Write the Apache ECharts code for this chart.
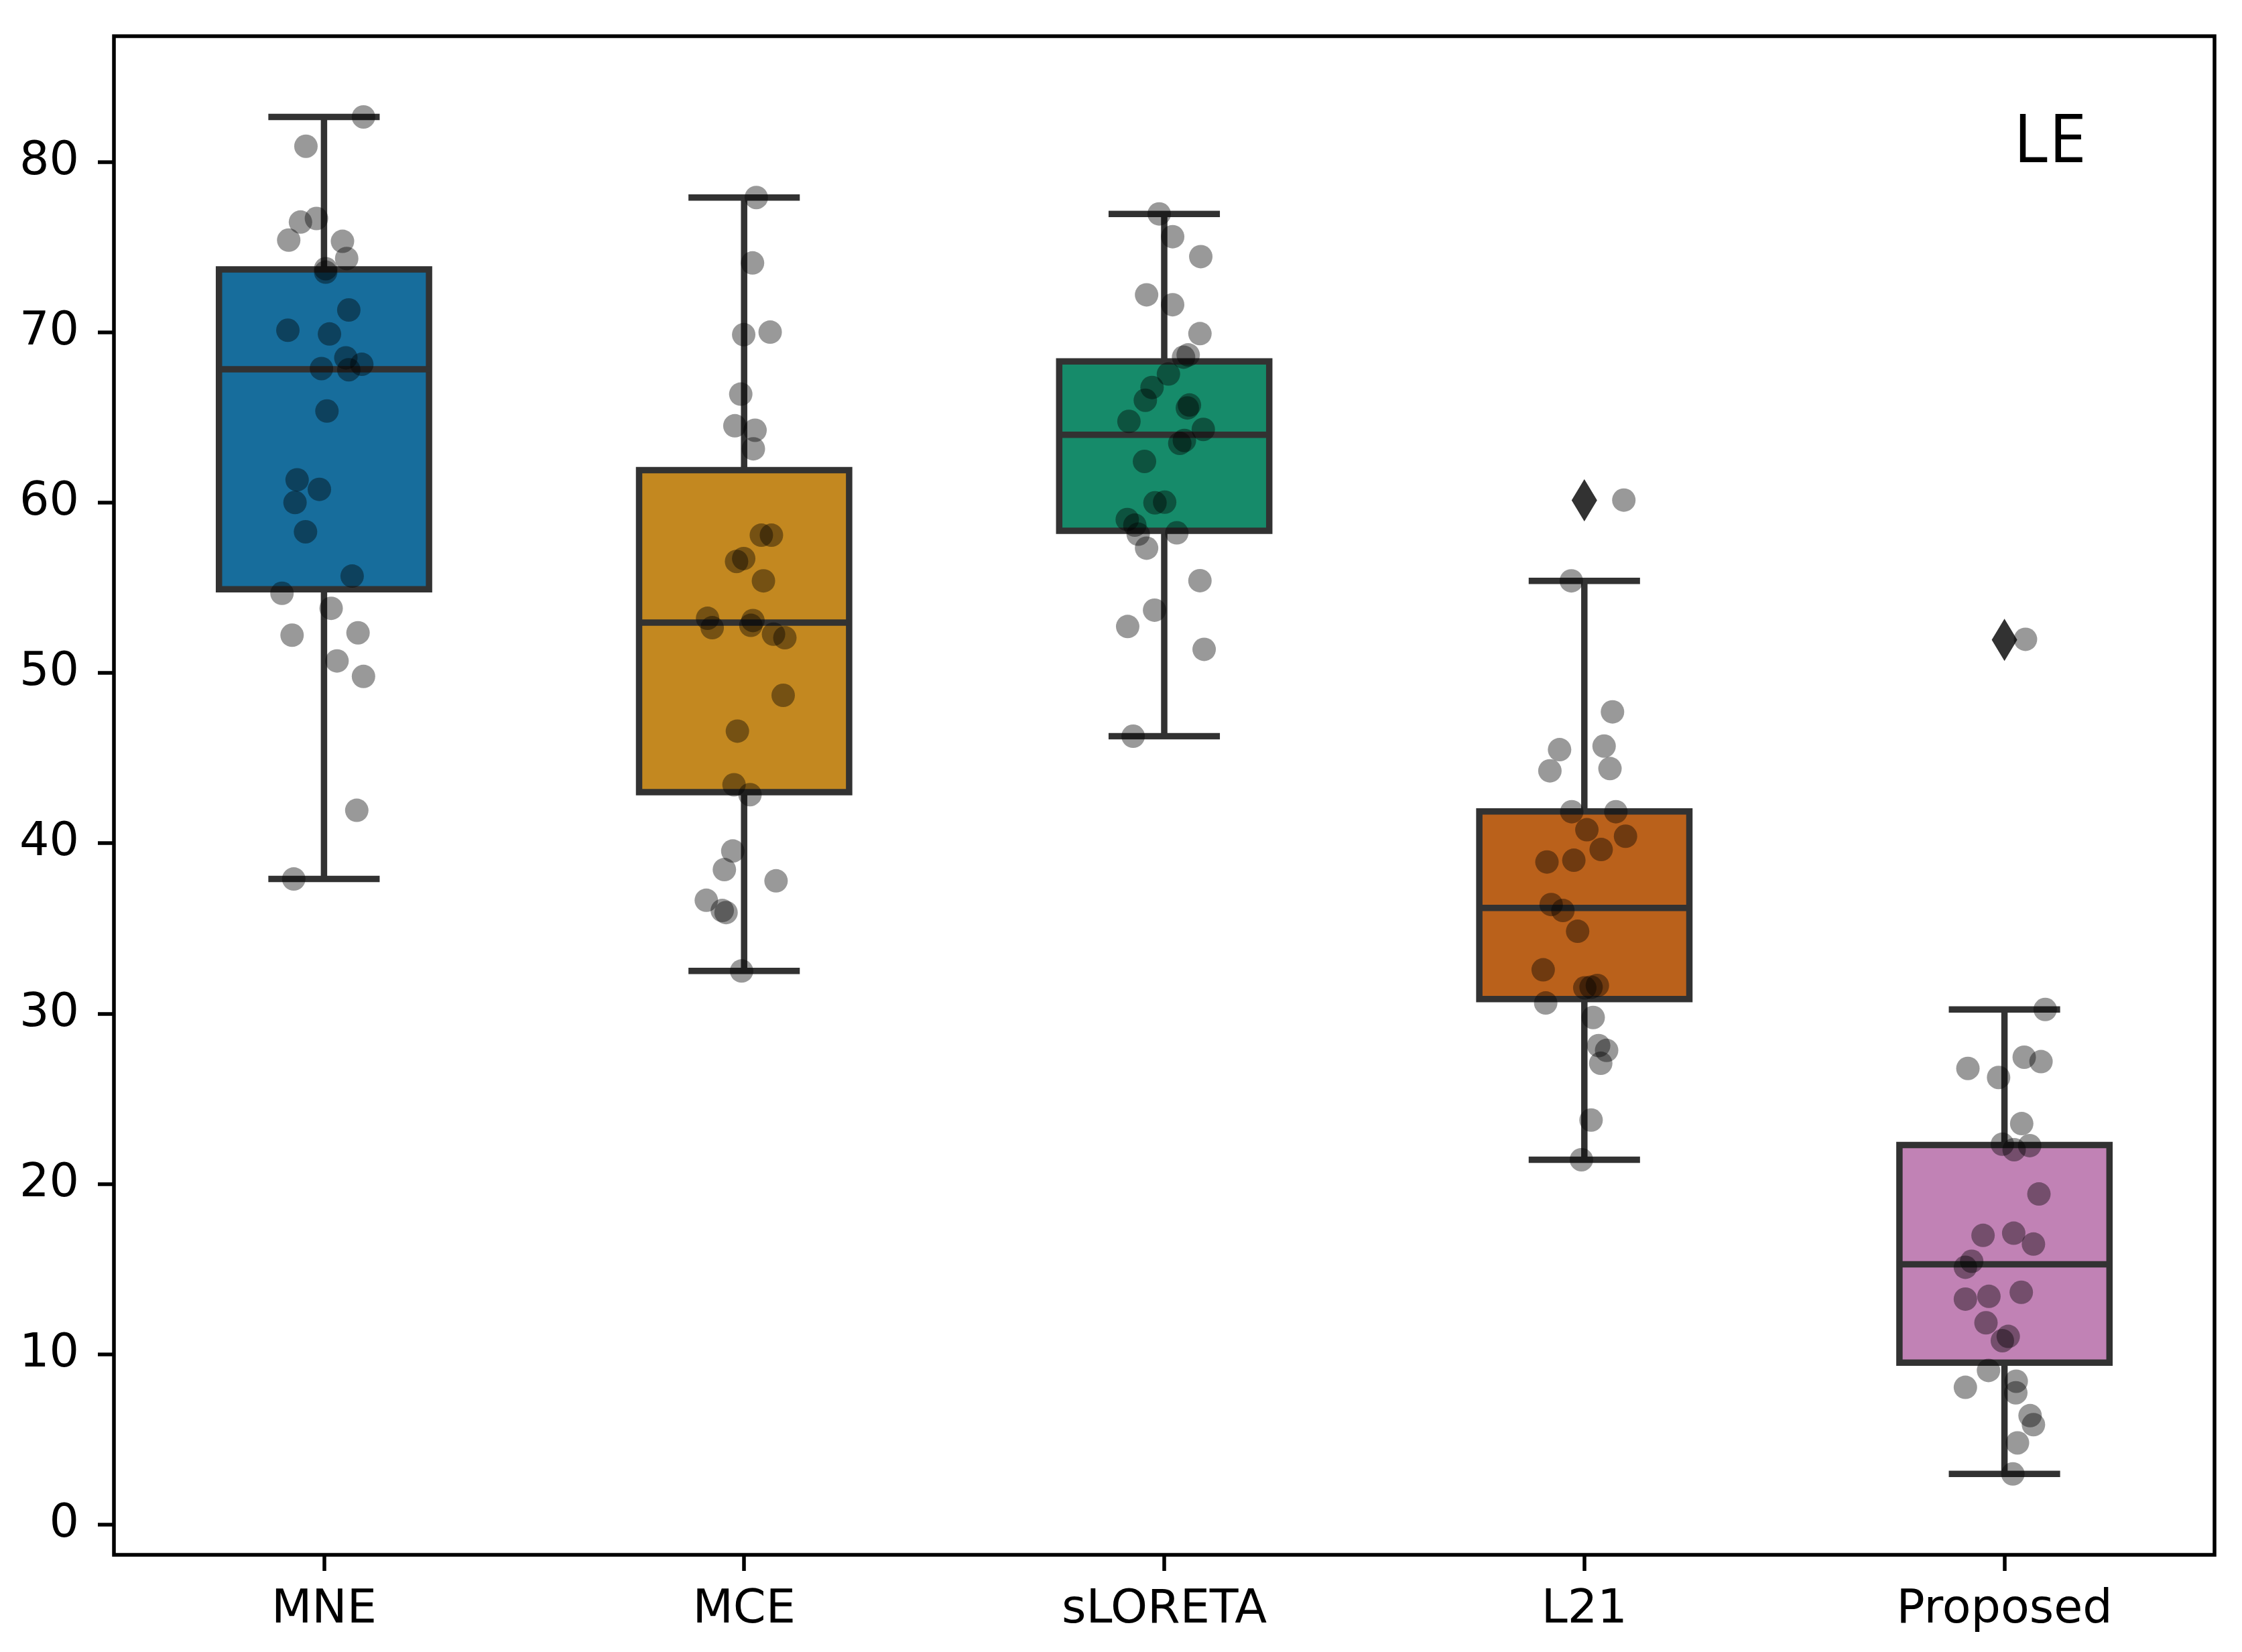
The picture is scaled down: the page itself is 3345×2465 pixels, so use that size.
<!DOCTYPE html>
<html>
<head>
<meta charset="utf-8">
<script src="https://cdn.jsdelivr.net/npm/echarts@6/dist/echarts.min.js"></script>
<style>
html,body{margin:0;padding:0;background:#fff;}
#chart{width:3345px;height:2465px;}
</style>
</head>
<body>
<div id="chart"></div>
<script>
// ---- data ----
var categories = ['MNE', 'MCE', 'sLORETA', 'L21', 'Proposed'];
var yTicks = [0, 10, 20, 30, 40, 50, 60, 70, 80];

// box statistics: [whisker low, Q1, median, Q3, whisker high]
var boxLow    = [37.90, 32.50, 46.28, 21.42, 2.98];
var boxQ1     = [54.91, 43.00, 58.34, 30.85, 9.51];
var boxMedian = [67.82, 52.95, 63.97, 36.20, 15.28];
var boxQ3     = [73.68, 61.90, 68.28, 41.87, 22.29];
var boxHigh   = [82.63, 77.90, 76.94, 55.40, 30.24];

// outliers (category index, value)
var outlierCat = [3, 4];
var outlierVal = [60.13, 51.94];

// individual observations and their horizontal jitter (category units)
var mneValues = [82.63, 80.91, 76.46, 76.67, 75.40, 75.33, 74.32, 73.72, 73.52, 71.30, 70.11, 69.89, 68.49, 68.11, 67.86, 67.79, 65.37, 61.33, 60.77, 60.00, 58.28, 55.68, 54.67, 53.79, 52.21, 52.35, 50.70, 49.79, 41.93, 37.90];
var mneJitter = [0.094, -0.043, -0.056, -0.018, -0.084, 0.044, 0.054, 0.004, 0.004, 0.059, -0.086, 0.013, 0.052, 0.090, -0.006, 0.059, 0.007, -0.064, -0.011, -0.069, -0.044, 0.067, -0.100, 0.017, -0.076, 0.081, 0.031, 0.094, 0.078, -0.072];

var mceValues = [77.90, 74.06, 69.85, 70.00, 66.36, 64.50, 64.24, 63.15, 58.08, 58.08, 56.71, 56.54, 55.40, 53.20, 52.65, 53.07, 52.79, 52.27, 52.06, 48.68, 46.58, 43.43, 42.85, 39.54, 38.45, 37.79, 36.65, 36.05, 35.93, 32.50];
var mceJitter = [0.029, 0.020, -0.001, 0.062, -0.008, -0.022, 0.026, 0.022, 0.041, 0.065, -0.001, -0.018, 0.046, -0.087, -0.076, 0.021, 0.016, 0.070, 0.097, 0.093, -0.016, -0.024, 0.014, -0.027, -0.047, 0.076, -0.090, -0.052, -0.043, -0.006];

var sloretaValues = [76.94, 75.60, 74.43, 72.19, 71.61, 69.91, 68.66, 68.53, 67.54, 66.75, 66.00, 65.72, 65.55, 64.76, 64.29, 63.64, 63.47, 62.41, 59.98, 60.02, 59.00, 58.67, 58.14, 58.22, 57.32, 55.41, 53.68, 52.72, 51.38, 46.28];
var sloretaJitter = [-0.012, 0.020, 0.087, -0.042, 0.020, 0.085, 0.057, 0.046, 0.010, -0.029, -0.045, 0.060, 0.055, -0.084, 0.093, 0.048, 0.037, -0.047, -0.022, 0.001, -0.088, -0.070, -0.062, 0.030, -0.042, 0.085, -0.023, -0.087, 0.095, -0.074];

var l21Values = [60.14, 55.40, 47.71, 45.49, 45.70, 44.25, 44.38, 41.85, 41.85, 40.79, 40.41, 39.63, 38.90, 39.00, 36.40, 36.05, 34.83, 32.57, 31.51, 31.55, 31.65, 30.62, 29.77, 28.12, 27.84, 27.08, 23.75, 21.42];
var l21Jitter = [0.094, -0.031, 0.067, -0.059, 0.047, -0.082, 0.061, -0.030, 0.075, 0.006, 0.098, 0.040, -0.089, -0.025, -0.079, -0.051, -0.016, -0.098, 0.001, 0.016, 0.031, -0.092, 0.021, 0.034, 0.053, 0.039, 0.016, -0.007];

var proposedValues = [51.97, 30.24, 27.44, 27.18, 26.78, 26.25, 23.54, 22.33, 22.25, 22.01, 19.41, 16.98, 17.11, 16.47, 15.46, 15.11, 13.24, 13.40, 13.64, 11.85, 11.05, 10.80, 9.05, 8.06, 8.42, 7.74, 6.40, 5.87, 4.80, 2.98];
var proposedJitter = [0.050, 0.097, 0.047, 0.087, -0.087, -0.014, 0.041, -0.005, 0.060, 0.023, 0.082, -0.051, 0.022, 0.069, -0.078, -0.093, -0.093, -0.037, 0.040, -0.044, 0.009, -0.005, -0.038, -0.093, 0.028, 0.027, 0.061, 0.069, 0.031, 0.020];

var boxColors = ['#176d9c', '#c38820', '#168b6a', '#ba611b', '#c182b5'];
var annotation = 'LE';

// ---- build series data ----
var groupValues = [mneValues, mceValues, sloretaValues, l21Values, proposedValues];
var groupJitter = [mneJitter, mceJitter, sloretaJitter, l21Jitter, proposedJitter];
var stripData = [];
for (var g = 0; g < groupValues.length; g++) {
  for (var k = 0; k < groupValues[g].length; k++) {
    stripData.push([g + groupJitter[g][k], groupValues[g][k]]);
  }
}
var boxData = categories.map(function (c, i) {
  return [i, boxLow[i], boxQ1[i], boxMedian[i], boxQ3[i], boxHigh[i]];
});
var flierData = outlierCat.map(function (c, i) { return [c, outlierVal[i]]; });

var lineColor = '#323232';
var lw = 9.5;

function renderBox(params, api) {
  var i = api.value(0);
  var low = api.coord([i, api.value(1)]);
  var q1 = api.coord([i, api.value(2)]);
  var med = api.coord([i, api.value(3)]);
  var q3 = api.coord([i, api.value(4)]);
  var high = api.coord([i, api.value(5)]);
  var bw = api.size([0.5, 0])[0];
  var cw = api.size([0.265, 0])[0];
  var x = q1[0];
  var ls = { stroke: lineColor, lineWidth: lw, fill: null };
  return {
    type: 'group',
    children: [
      { type: 'line', shape: { x1: x, y1: q3[1], x2: x, y2: high[1] }, style: ls },
      { type: 'line', shape: { x1: x, y1: q1[1], x2: x, y2: low[1] }, style: ls },
      { type: 'line', shape: { x1: x - cw / 2, y1: high[1], x2: x + cw / 2, y2: high[1] }, style: ls },
      { type: 'line', shape: { x1: x - cw / 2, y1: low[1], x2: x + cw / 2, y2: low[1] }, style: ls },
      { type: 'rect', shape: { x: x - bw / 2, y: q3[1], width: bw, height: q1[1] - q3[1] },
        style: { fill: boxColors[params.dataIndex], stroke: lineColor, lineWidth: lw } },
      { type: 'line', shape: { x1: x - bw / 2, y1: med[1], x2: x + bw / 2, y2: med[1] }, style: ls }
    ]
  };
}

var chart = echarts.init(document.getElementById('chart'), null, { renderer: 'canvas', devicePixelRatio: 1 });
var font = 'DejaVu Sans';
chart.setOption({
  animation: false,
  backgroundColor: '#ffffff',
  grid: {
    left: 170, right: 41, top: 54, bottom: 145,
    show: true, borderColor: '#000', borderWidth: 5.5, backgroundColor: 'transparent'
  },
  xAxis: [
    {
      type: 'category', data: categories, boundaryGap: true, position: 'bottom',
      axisLine: { show: false, onZero: false },
      axisTick: { show: true, inside: false, alignWithLabel: true, length: 24, lineStyle: { color: '#000', width: 5.5 } },
      axisLabel: { color: '#000', fontFamily: font, fontSize: 70, margin: 48 },
      splitLine: { show: false }
    },
    {
      type: 'value', min: -0.5, max: 4.5, show: false,
      axisLine: { onZero: false }
    }
  ],
  yAxis: {
    type: 'value', min: -1.77, max: 87.37, position: 'left',
    axisLine: { show: false, onZero: false },
    axisTick: { show: true, inside: false, length: 24, customValues: yTicks, lineStyle: { color: '#000', width: 5.5 } },
    axisLabel: { color: '#000', fontFamily: font, fontSize: 70, margin: 52, customValues: yTicks },
    splitLine: { show: false }
  },
  graphic: [{
    type: 'text', left: 3004, top: 163,
    style: { text: annotation, fontFamily: 'Open Sans', fontSize: 101, fill: '#000' }
  }],
  series: [
    {
      type: 'custom', xAxisIndex: 1, renderItem: renderBox, data: boxData, z: 2,
      encode: { x: 0, y: [1, 2, 3, 4, 5] }
    },
    {
      type: 'scatter', xAxisIndex: 1, data: flierData, z: 3,
      symbol: 'path://M0,-1 L0.6,0 L0,1 L-0.6,0 Z', symbolSize: [38, 63],
      itemStyle: { color: lineColor, opacity: 1 }
    },
    {
      type: 'scatter', xAxisIndex: 1, data: stripData, z: 4,
      symbol: 'circle', symbolSize: 35,
      itemStyle: { color: 'rgba(0,0,0,0.5)', borderWidth: 0 }
    }
  ]
});
</script>
</body>
</html>
